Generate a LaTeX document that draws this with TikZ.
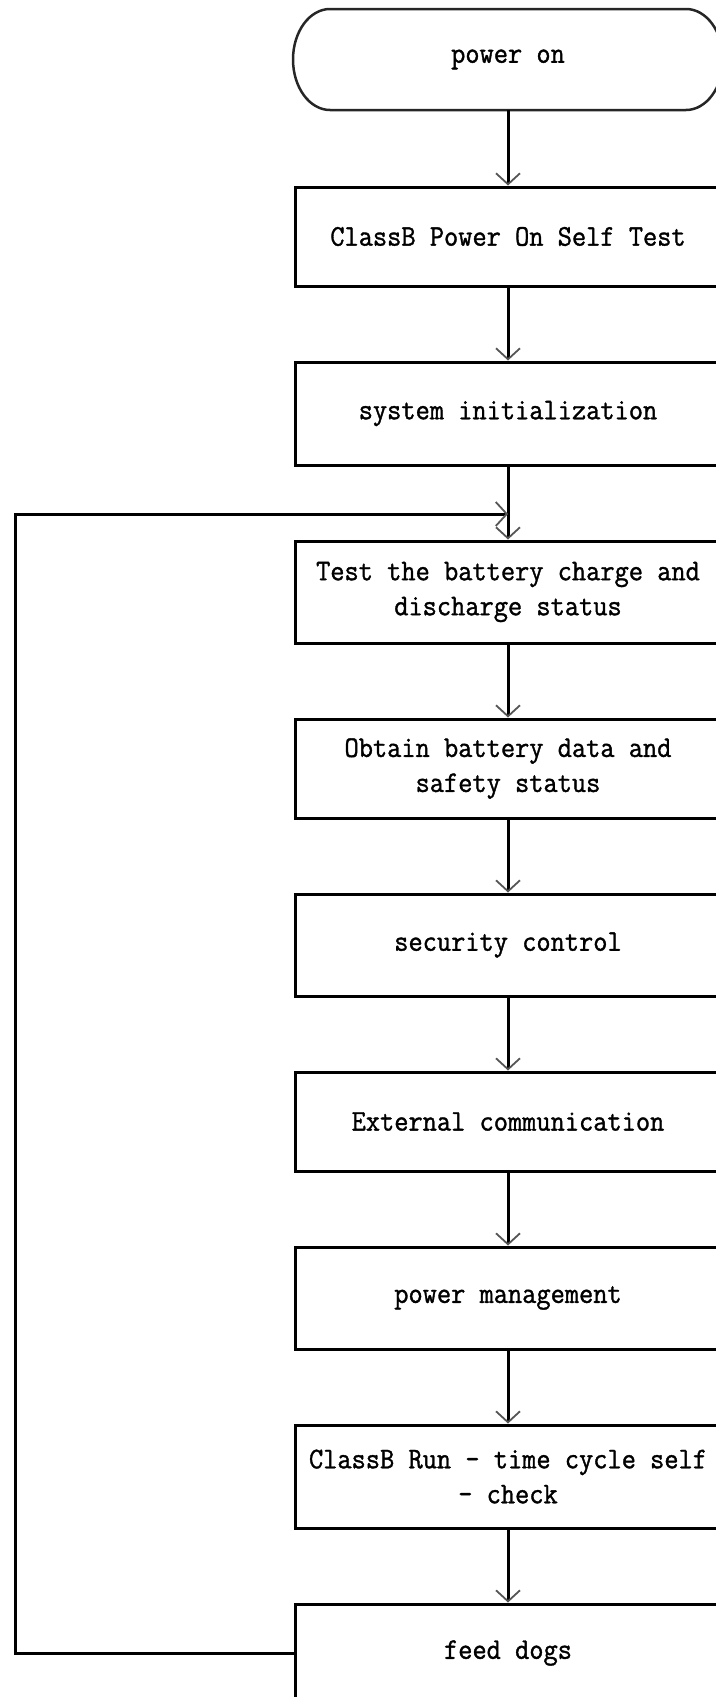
\documentclass[tikz,border=0pt]{standalone}
\usepackage{fontspec}
\setmonofont[FakeStretch=0.92,FakeBold=1.2]{Latin Modern Mono}
\usetikzlibrary{arrows.meta}
\definecolor{tipgray}{HTML}{555555}
\begin{document}
\begin{tikzpicture}[x=1pt,y=-1pt,
  stepbox/.style={draw=black, line width=3pt, minimum width=426pt, align=center,
    font=\ttfamily\fontsize{30}{35}\selectfont, inner sep=0pt},
  plain/.style={align=center, font=\ttfamily\fontsize{30}{35}\selectfont, inner sep=0pt},
  flow/.style={line width=3pt, -{Straight Barb[length=11pt,width=24pt,line width=1.8pt,color=tipgray]}}]
\useasboundingbox (0,0) rectangle (715,1697);
% terminal
\node[plain, minimum width=428pt, minimum height=101pt] (on) at (508,59.5) {power on};
\draw[line width=2.5pt, draw=black!85]
  (330,9) -- (686,9)
  .. controls (706.4,9) and (723,31.6) .. (723,59.5)
  .. controls (723,87.4) and (706.4,110) .. (686,110)
  -- (330,110)
  .. controls (309.6,110) and (293,87.4) .. (293,59.5)
  .. controls (293,31.6) and (309.6,9) .. cycle;
\node[stepbox, minimum height=99pt]  (post) at (508,236.5) {ClassB Power On Self Test};
\node[stepbox, minimum height=103pt] (init) at (508,413.5) {system initialization};
\node[stepbox, minimum height=102pt] (test) at (508,592) {Test the battery charge and\\discharge status};
\node[stepbox, minimum height=99pt]  (obtain) at (508,768.5) {Obtain battery data and\\safety status};
\node[stepbox, minimum height=102pt] (sec) at (508,945) {security control};
\node[stepbox, minimum height=99pt]  (ext) at (508,1121.5) {External communication};
\node[stepbox, minimum height=102pt] (pm) at (508,1298) {power management};
\node[stepbox, minimum height=103pt] (run) at (508,1476.5) {ClassB Run - time cycle self\\- check};
\node[stepbox, minimum height=98pt]  (feed) at (508,1653) {feed dogs};
\draw[flow] (on.south) -- (post.north);
\draw[flow] (post.south) -- (init.north);
\draw[flow] (init.south) -- (test.north);
\draw[flow] (test.south) -- (obtain.north);
\draw[flow] (obtain.south) -- (sec.north);
\draw[flow] (sec.south) -- (ext.north);
\draw[flow] (ext.south) -- (pm.north);
\draw[flow] (pm.south) -- (run.north);
\draw[flow] (run.south) -- (feed.north);
\coordinate (c1) at (15,1653);
\coordinate (c2) at (15,514);
\coordinate (j) at (508,514);
\draw[flow, line join=miter] (feed.west) -- (c1) -- (c2) -- (j);
\end{tikzpicture}
\end{document}
